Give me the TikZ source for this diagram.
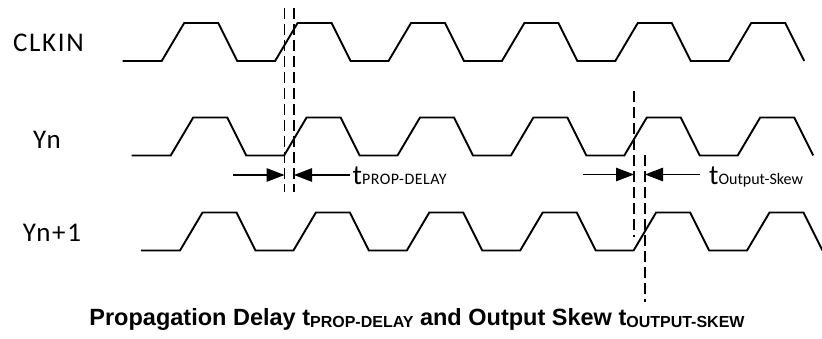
\documentclass[tikz,border=0pt]{standalone}
\usepackage{fontspec}
\setmainfont{Carlito}
\newfontfamily\arialfont{Liberation Sans}
\newfontfamily\sigfont{Carlito}[LetterSpace=6]
\usetikzlibrary{arrows.meta}
\newcommand{\drawwave}[2]{%
  \draw[wave] (#1,#2) -- ++(39,0)
    \foreach \k in {1,...,5}{ -- ++(22.5,-38) -- ++(34,0) -- ++(19,38) -- ++(37.9,0) }
    -- ++(22.5,-38) -- ++(34,0) -- ++(19,38);}
\begin{document}
\begin{tikzpicture}[x=1pt,y=-1pt,
  wave/.style={line width=1.9pt},
  guide/.style={line width=1.2pt, dash pattern=on 11pt off 5pt},
  meas/.style={line width=1.2pt, -{Triangle[length=18pt,width=13.5pt]}},
  sig/.style={font=\sigfont\fontsize{27}{27}\selectfont, anchor=base west, inner sep=0pt},
  tlab/.style={anchor=base west, inner sep=0pt},
]
\useasboundingbox (0,0) rectangle (822,339);

% signal names
\node[sig] (clk) at (13,51.7) {CLKIN};
\node[sig] (yn) at (33,148.3) {Yn};
\node[sig] (yn1) at (22.7,241.7) {Yn+1};

% waveforms
\drawwave{122.7}{61}
\drawwave{131.7}{155.5}
\drawwave{141}{250.5}

% guide lines
\coordinate (pd1t) at (284.5,8);  \coordinate (pd1b) at (284.5,192);
\coordinate (pd2t) at (294,8);    \coordinate (pd2b) at (294,192);
\coordinate (sk1t) at (634,91);   \coordinate (sk1b) at (634,237);
\coordinate (sk2t) at (645,155);  \coordinate (sk2b) at (645,302);
\draw[guide] (pd1t) -- (pd1b);
\draw[guide] (pd2t) -- (pd2b);
\draw[guide] (sk1t) -- (sk1b);
\draw[guide] (sk2t) -- (sk2b);

% measurement arrows
\coordinate (pdL) at (233,175);  \coordinate (pdA) at (284.5,175);
\coordinate (pdR) at (350,175);  \coordinate (pdB) at (294,175);
\coordinate (skL) at (583,174.5); \coordinate (skA) at (634,174.5);
\coordinate (skR) at (700,174.5); \coordinate (skB) at (645,174.5);
\draw[meas] (pdL) -- (pdA);
\draw[meas] (pdR) -- (pdB);
\draw[meas] (skL) -- (skA);
\draw[meas] (skR) -- (skB);

% labels
\node[tlab] (tpd) at (352.5,185) {{\fontsize{28}{28}\selectfont t}{\addfontfeature{LetterSpace=3}\fontsize{16}{16}\selectfont PROP-DELAY}};
\node[tlab] (tsk) at (709,185) {{\fontsize{28}{28}\selectfont t}{\fontsize{16}{16}\selectfont Output-Skew}};

% caption
\node[anchor=base, inner sep=0pt] (cap) at (417,325) {\arialfont\bfseries\fontsize{23.5}{24}\selectfont Propagation Delay t\raisebox{-2pt}{\fontsize{16}{16}\selectfont PROP-DELAY} and Output Skew t\raisebox{-2pt}{\fontsize{16}{16}\selectfont OUTPUT-SKEW}};
\end{tikzpicture}
\end{document}
